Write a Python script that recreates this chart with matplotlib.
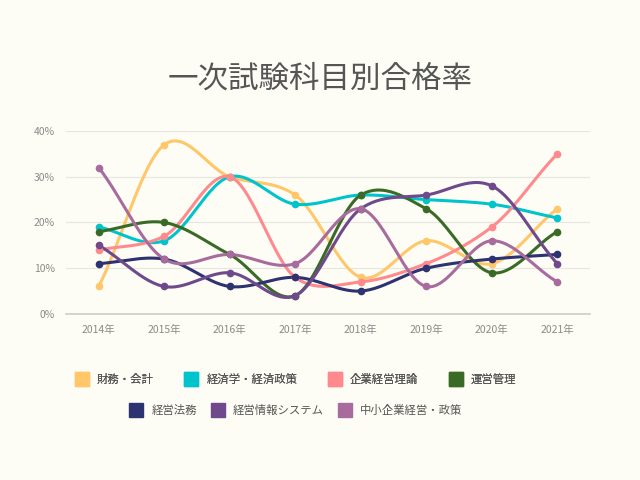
import numpy as np
import matplotlib
matplotlib.use("Agg")
import matplotlib.pyplot as plt
from matplotlib.lines import Line2D
from matplotlib.ticker import FuncFormatter

plt.rcParams['font.family'] = ['Noto Sans CJK JP', 'DejaVu Sans']

years = ['2014年', '2015年', '2016年', '2017年', '2018年', '2019年', '2020年', '2021年']
zaimu = [6, 37, 30, 26, 8, 16, 11, 23]
keizai = [19, 16, 30, 24, 26, 25, 24, 21]
kigyo = [14, 17, 30, 8, 7, 11, 19, 35]
unei = [18, 20, 13, 4, 26, 23, 9, 18]
homu = [11, 12, 6, 8, 5, 10, 12, 13]
joho = [15, 6, 9, 4, 23, 26, 28, 11]
chusho = [32, 12, 13, 11, 23, 6, 16, 7]

names = ['財務・会計', '経済学・経済政策', '企業経営理論', '運営管理',
         '経営法務', '経営情報システム', '中小企業経営・政策']
series = [zaimu, keizai, kigyo, unei, homu, joho, chusho]
colors = ['#FFC76A', '#00C4CC', '#FF8A8E', '#3A6B26', '#2D3270', '#6E4A8C', '#A86B9E']

bg = '#FDFDF5'


def smooth(y, n=30, k=0.45):
    # cardinal spline through the points
    y = np.asarray(y, dtype=float)
    p = np.concatenate([[2 * y[0] - y[1]], y, [2 * y[-1] - y[-2]]])
    xs, ys = [], []
    t = np.linspace(0, 1, n)
    h00 = 2 * t ** 3 - 3 * t ** 2 + 1
    h10 = t ** 3 - 2 * t ** 2 + t
    h01 = -2 * t ** 3 + 3 * t ** 2
    h11 = t ** 3 - t ** 2
    for i in range(1, len(p) - 2):
        m1 = k * (p[i + 1] - p[i - 1])
        m2 = k * (p[i + 2] - p[i])
        seg = h00 * p[i] + h10 * m1 + h01 * p[i + 1] + h11 * m2
        xs.append(i - 1 + t)
        ys.append(seg)
    return np.concatenate(xs), np.concatenate(ys)


fig = plt.figure(figsize=(6.4, 4.8), dpi=100, facecolor=bg)
ax = fig.add_axes([0.103, 0.346, 0.819, 0.381], facecolor=bg)

x = np.arange(len(years))
for vals, c in zip(series, colors):
    sx, sy = smooth(vals)
    ax.plot(sx, sy, color=c, lw=2.2, clip_on=False, zorder=3)
    ax.plot(x, vals, 'o', color=c, ms=4.5, clip_on=False, zorder=4)

ax.set_xlim(-0.5, 7.5)
ax.set_ylim(0, 40)
ax.set_xticks(x)
ax.set_xticklabels(years)
ax.set_yticks([0, 10, 20, 30, 40])
ax.yaxis.set_major_formatter(FuncFormatter(lambda v, p: f'{int(v)}%'))
ax.tick_params(length=0, labelsize=7.5, colors='#8A8A8A', pad=8)
ax.grid(axis='y', color='#E6E6E0', lw=0.8)
ax.set_axisbelow(True)
for s in ['top', 'right', 'left']:
    ax.spines[s].set_visible(False)
ax.spines['bottom'].set_color('#CCCCCC')
ax.spines['bottom'].set_linewidth(1.2)

fig.text(0.5, 0.836, '一次試験科目別合格率', ha='center', va='center',
         fontsize=22, color='#555555')

handles = [Line2D([], [], marker='s', ls='', color=c, ms=10) for c in colors]
leg1 = fig.legend(handles[:4], names[:4], loc='center', bbox_to_anchor=(0.462, 0.21),
                  ncol=4, frameon=False, fontsize=8.2, labelcolor='#555555',
                  columnspacing=2.7, handlelength=1.2, handletextpad=0.72)
fig.add_artist(leg1)
fig.legend(handles[4:], names[4:], loc='center', bbox_to_anchor=(0.462, 0.145),
           ncol=3, frameon=False, fontsize=8.2, labelcolor='#555555',
           columnspacing=1.23, handlelength=1.2, handletextpad=0.72)

fig.savefig('out.png', dpi=100, facecolor=bg)
